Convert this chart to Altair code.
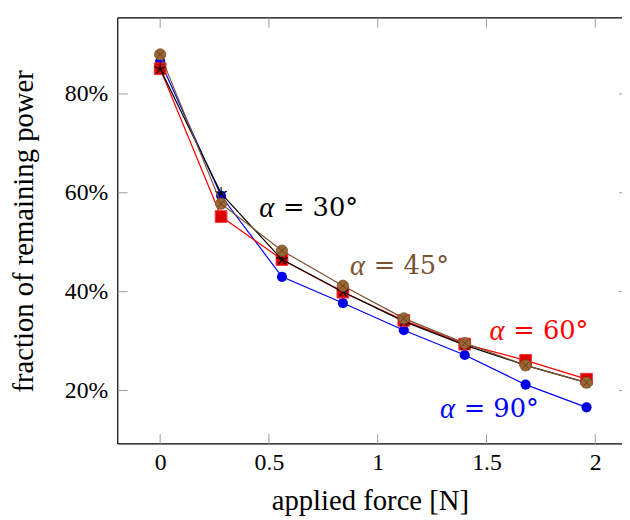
import altair as alt
import pandas as pd

# ---- data ----
force = [0, 0.28, 0.56, 0.84, 1.12, 1.40, 1.68, 1.96]
alpha30 = [0.851, 0.599, 0.465, 0.400, 0.340, 0.292, 0.251, 0.216]
alpha45 = [0.880, 0.578, 0.483, 0.412, 0.346, 0.296, 0.251, 0.216]
alpha60 = [0.851, 0.552, 0.465, 0.399, 0.342, 0.294, 0.261, 0.223]
alpha90 = [0.866, 0.594, 0.430, 0.377, 0.322, 0.272, 0.212, 0.166]

x_ticks = [0, 0.5, 1, 1.5, 2]
y_ticks = [0.2, 0.4, 0.6, 0.8]

label_sym = ["α", "α", "α", "α"]
label_rest = ["= 30°", "= 45°", "= 60°", "= 90°"]
label_x = [0.455, 0.873, 1.514, 1.286]
label_y = [0.570, 0.452, 0.320, 0.162]
label_color = ["#000000", "#7a5230", "#ff0000", "#0000ff"]

W, H = 510, 431
FONT = "Liberation Serif"
ANN_FONT = "DejaVu Serif"

xs = alt.Scale(domain=[-0.195, 2.123], nice=False, zero=False)
ys = alt.Scale(domain=[0.092, 0.954], nice=False, zero=False)

x_axis = alt.Axis(values=x_ticks, format="~g", title="applied force [N]",
                  labelFont=FONT, labelFontSize=24, titleFont=FONT, titleFontSize=29,
                  titleFontWeight="normal", labelColor="black", titleColor="black",
                  ticks=False, domain=False, grid=False, labelPadding=7, titlePadding=12)
y_axis = alt.Axis(values=y_ticks, format=".0%", title="fraction of remaining power",
                  labelFont=FONT, labelFontSize=24, titleFont=FONT, titleFontSize=29,
                  titleFontWeight="normal", labelColor="black", titleColor="black",
                  ticks=False, domain=False, grid=False, labelPadding=10,
                  titleX=-80, titleBaseline="bottom")

X = alt.X("force:Q", scale=xs, axis=x_axis)
Y = alt.Y("frac:Q", scale=ys, axis=y_axis)

STAR = "M0,-1L0,0M0.951,-0.309L0,0M0.588,0.809L0,0M-0.588,0.809L0,0M-0.951,-0.309L0,0"
XCROSS = "M-0.707,-0.707L0.707,0.707M-0.707,0.707L0.707,-0.707"


def sdf(vals):
    return pd.DataFrame({"force": force, "frac": vals})


def line(vals, color):
    return alt.Chart(sdf(vals)).mark_line(color=color, strokeWidth=1.2).encode(x=X, y=Y)


layers = []
# alpha = 90 (blue circles)
layers.append(line(alpha90, "#0000ff"))
layers.append(alt.Chart(sdf(alpha90)).mark_point(shape="circle", filled=True, size=105,
              color="#0000e6", opacity=1).encode(x=X, y=Y))
# alpha = 60 (red squares)
layers.append(line(alpha60, "#ff0000"))
layers.append(alt.Chart(sdf(alpha60)).mark_point(shape="square", filled=True, size=140,
              fill="#dd0000", stroke="#ff3030", strokeWidth=1, opacity=1).encode(x=X, y=Y))
# alpha = 30 (black stars)
layers.append(line(alpha30, "#000000"))
layers.append(alt.Chart(sdf(alpha30)).mark_point(shape=STAR, filled=False, size=150,
              stroke="#000000", strokeWidth=1.2, opacity=1).encode(x=X, y=Y))
# alpha = 45 (brown otimes)
layers.append(line(alpha45, "#7a5230"))
layers.append(alt.Chart(sdf(alpha45)).mark_point(shape="circle", filled=True, size=130,
              fill="#9a6634", stroke="#7a5230", strokeWidth=0.8, opacity=1).encode(x=X, y=Y))
layers.append(alt.Chart(sdf(alpha45)).mark_point(shape=XCROSS, filled=False, size=90,
              stroke="#5e3c1c", strokeWidth=0.9, opacity=1).encode(x=X, y=Y))

# annotations: italic alpha + "= NN°"
ann = pd.DataFrame({"force": label_x, "frac": label_y, "sym": label_sym,
                    "rest": label_rest, "color": label_color})
layers.append(alt.Chart(ann).mark_text(font=FONT, fontSize=29, fontStyle="italic",
                                       align="left", baseline="middle").encode(
    x=X, y=Y, text="sym:N", color=alt.Color("color:N", scale=None)))
layers.append(alt.Chart(ann).mark_text(font=ANN_FONT, fontSize=26, align="left",
                                       baseline="middle", dx=24).encode(
    x=X, y=Y, text="rest:N", color=alt.Color("color:N", scale=None)))

# frame (left, top, bottom)
one = alt.Data(values=[{}])
frame_col = "#000000"
layers.append(alt.Chart(one).mark_rule(color=frame_col, strokeWidth=1.2).encode(
    x=alt.value(0), x2=alt.value(W), y=alt.value(0)))
layers.append(alt.Chart(one).mark_rule(color=frame_col, strokeWidth=1.2).encode(
    x=alt.value(0), x2=alt.value(W), y=alt.value(H)))
layers.append(alt.Chart(one).mark_rule(color=frame_col, strokeWidth=1.2).encode(
    x=alt.value(0), y=alt.value(0), y2=alt.value(H)))

# inward ticks
xt = pd.DataFrame({"force": x_ticks})
yt = pd.DataFrame({"frac": y_ticks})
tick_col = "#9a9a9a"
layers.append(alt.Chart(xt).mark_rule(color=tick_col, strokeWidth=1).encode(
    x=X, y=alt.value(H - 10), y2=alt.value(H)))
layers.append(alt.Chart(xt).mark_rule(color=tick_col, strokeWidth=1).encode(
    x=X, y=alt.value(0), y2=alt.value(10)))
layers.append(alt.Chart(yt).mark_rule(color=tick_col, strokeWidth=1).encode(
    y=Y, x=alt.value(0), x2=alt.value(10)))
layers.append(alt.Chart(yt).mark_rule(color=tick_col, strokeWidth=1).encode(
    y=Y, x=alt.value(W - 3), x2=alt.value(W)))

chart = alt.layer(*layers).properties(
    width=W, height=H,
    padding={"left": 111, "top": 7, "right": 0, "bottom": 74},
    autosize=alt.AutoSizeParams(type="none"),
).configure_view(stroke=None)

chart.save("out.html", embed_options={"renderer": "svg", "actions": False})
